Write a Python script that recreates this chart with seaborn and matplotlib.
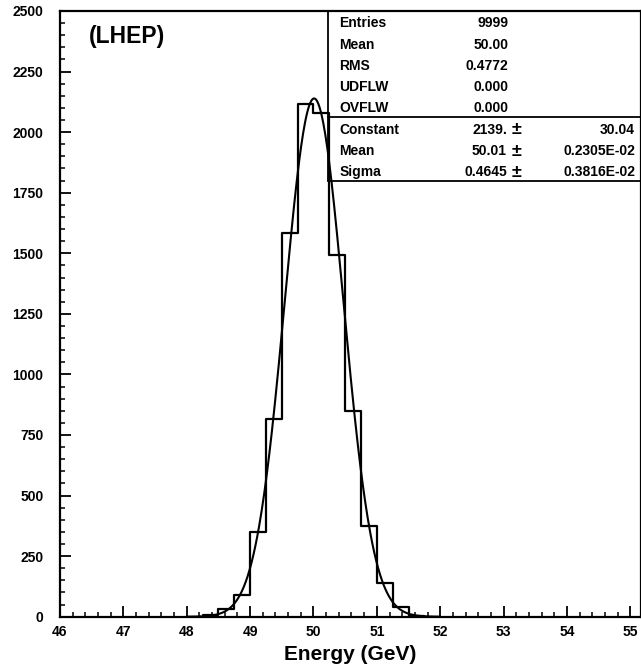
import numpy as np
import pandas as pd
import matplotlib
matplotlib.use("Agg")
import matplotlib.pyplot as plt
from matplotlib.lines import Line2D
from matplotlib.ticker import MultipleLocator
import seaborn as sns

# ---- data ----
bin_left = [48.25, 48.5, 48.75, 49.0, 49.25, 49.5, 49.75, 50.0, 50.25, 50.5, 50.75, 51.0, 51.25, 51.5]
counts = [6, 32, 88, 348, 815, 1585, 2116, 2079, 1494, 848, 376, 138, 41, 4]
bin_width = 0.25

fit_constant = 2139.0
fit_mean = 50.01
fit_sigma = 0.4645

x_ticks = [46, 47, 48, 49, 50, 51, 52, 53, 54, 55]
y_ticks = [0, 250, 500, 750, 1000, 1250, 1500, 1750, 2000, 2250, 2500]

stats_labels = ["Entries", "Mean", "RMS", "UDFLW", "OVFLW"]
stats_values = ["9999", "50.00", "0.4772", "0.000", "0.000"]
fit_labels = ["Constant", "Mean", "Sigma"]
fit_values = ["2139.", "50.01", "0.4645"]
fit_errors = ["30.04", "0.2305E-02", "0.3816E-02"]

# ---- style ----
sns.set_style("white")
plt.rcParams['font.family'] = ['Liberation Sans', 'DejaVu Sans']
plt.rcParams['font.weight'] = 'bold'
plt.rcParams['text.color'] = 'black'
plt.rcParams['axes.labelcolor'] = 'black'
plt.rcParams['xtick.color'] = 'black'
plt.rcParams['ytick.color'] = 'black'
plt.rcParams['axes.edgecolor'] = 'black'

W, H = 641, 669
fig = plt.figure(figsize=(W / 100, H / 100), dpi=100)
ax_left, ax_right, ax_top, ax_bottom = 60, 640.5, 11, 616.7
ax = fig.add_axes([ax_left / W, 1 - ax_bottom / H, (ax_right - ax_left) / W, (ax_bottom - ax_top) / H])

edges = list(bin_left) + [bin_left[-1] + bin_width]
centers = [b + bin_width / 2 for b in bin_left]
df = pd.DataFrame({"energy": centers, "n": counts})
sns.histplot(data=df, x="energy", weights="n", bins=edges, element="step",
             fill=False, color="black", linewidth=1.6, ax=ax)

xs = np.linspace(48.0, 52.0, 400)
curve = pd.DataFrame({"x": xs,
                      "y": fit_constant * np.exp(-0.5 * ((xs - fit_mean) / fit_sigma) ** 2)})
sns.lineplot(data=curve, x="x", y="y", color="black", linewidth=1.5, ax=ax)

px_per_gev = (630.3 - 60) / 9
ax.set_xlim(46, 46 + (ax_right - ax_left) / px_per_gev)
ax.set_ylim(0, 2500)
ax.set_xticks(x_ticks)
ax.set_xticklabels([str(t) for t in x_ticks])
ax.set_yticks(y_ticks)
ax.set_yticklabels([str(t) for t in y_ticks])
ax.xaxis.set_minor_locator(MultipleLocator(0.2))
ax.yaxis.set_minor_locator(MultipleLocator(50))
ax.tick_params(axis='both', which='major', direction='in', length=8, width=1.3,
               labelsize=10, color='black', labelcolor='black',
               bottom=True, left=True, top=False, right=False)
ax.tick_params(axis='both', which='minor', direction='in', length=3.5, width=1.1,
               color='black', bottom=True, left=True, top=False, right=False)
ax.tick_params(axis='y', which='major', pad=12)
ax.tick_params(axis='x', which='major', pad=6)
for lab in ax.get_xticklabels() + ax.get_yticklabels():
    lab.set_fontweight('bold')
for sp in ax.spines.values():
    sp.set_visible(True)
    sp.set_color('black')
    sp.set_linewidth(1.6)
ax.set_xlabel("")
ax.set_ylabel("")

fig.text(((ax_left + ax_right) / 2) / W, 1 - 655 / H, "Energy (GeV)",
         ha='center', va='center', fontsize=15, fontweight='bold', color='black')
fig.text(89 / W, 1 - 43 / H, "(LHEP)",
         ha='left', va='baseline', fontsize=16.5, fontweight='bold', color='black')

# ---- stats box ----
def fx(p):
    return p / W

def fy(p):
    return 1 - p / H

box_l, box_mid, box_bot = 328.3, 116.7, 181
for (x0, y0, x1, y1) in [(box_l, ax_top, box_l, box_bot),
                         (box_l, box_mid, W, box_mid),
                         (box_l, box_bot, W, box_bot)]:
    fig.add_artist(Line2D([fx(x0), fx(x1)], [fy(y0), fy(y1)], color='black',
                          linewidth=1.3, transform=fig.transFigure))

fs = 10
stat_base = [27.3, 48.6, 69.9, 91.2, 112.5]
for lab, val, yb in zip(stats_labels, stats_values, stat_base):
    fig.text(fx(339.3), fy(yb), lab, ha='left', va='baseline', fontsize=fs, fontweight='bold', color='black')
    fig.text(fx(508.3), fy(yb), val, ha='right', va='baseline', fontsize=fs, fontweight='bold', color='black')
fit_base = [133.5, 154.8, 176.3]
for lab, val, err, yb in zip(fit_labels, fit_values, fit_errors, fit_base):
    fig.text(fx(339.3), fy(yb), lab, ha='left', va='baseline', fontsize=fs, fontweight='bold', color='black')
    fig.text(fx(507), fy(yb), val, ha='right', va='baseline', fontsize=fs, fontweight='bold', color='black')
    fig.text(fx(512), fy(yb + 1), "\u00b1", ha='left', va='baseline', fontsize=fs + 3,
             fontweight='bold', color='black')
    fig.text(fx(635), fy(yb), err, ha='right', va='baseline', fontsize=fs, fontweight='bold', color='black')

fig.savefig("out.png", dpi=100)
